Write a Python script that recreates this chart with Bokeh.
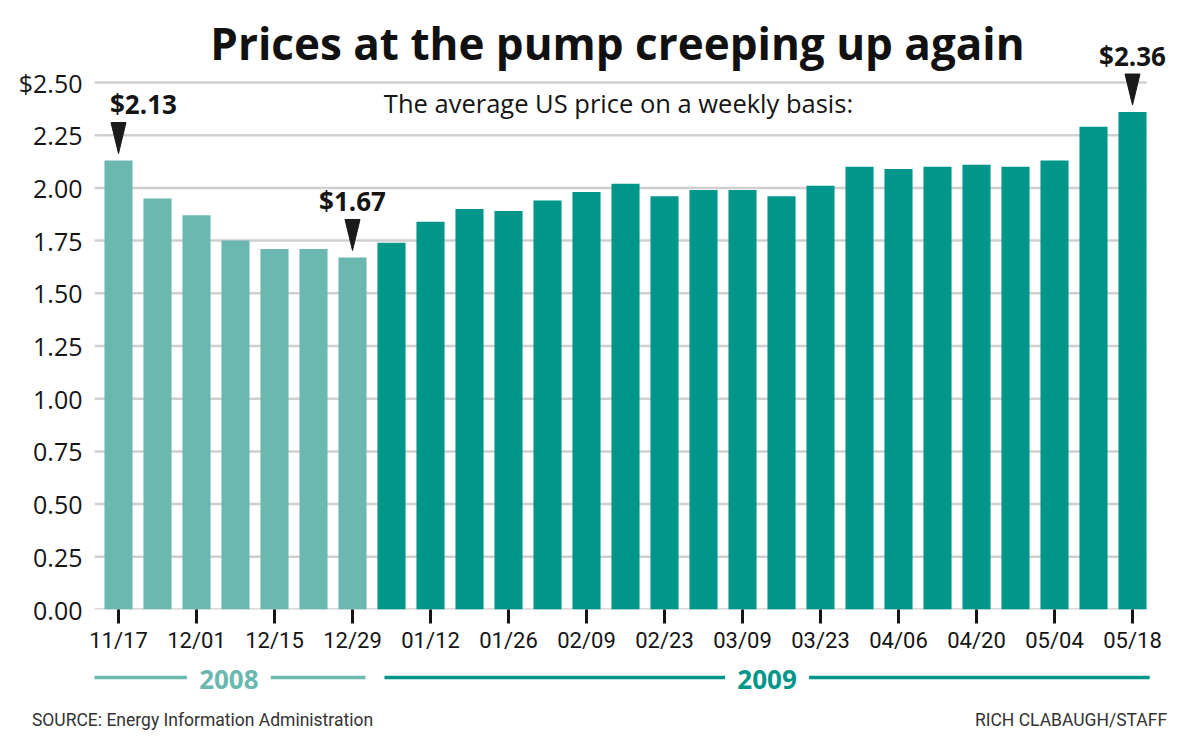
from bokeh.plotting import figure
from bokeh.models import Range1d, FixedTicker, NumeralTickFormatter, ColumnDataSource, Label
from bokeh.layouts import column
from bokeh.embed import file_html
from bokeh.resources import INLINE
from bokeh.core.properties import value

# ---------------- data ----------------
weeks = ["11/17", "11/24", "12/01", "12/08", "12/15", "12/22", "12/29",
         "01/05", "01/12", "01/19", "01/26", "02/02", "02/09", "02/16",
         "02/23", "03/02", "03/09", "03/16", "03/23", "03/30", "04/06",
         "04/13", "04/20", "04/27", "05/04", "05/11", "05/18"]
years = ["2008"] * 7 + ["2009"] * 20
prices = [2.13, 1.95, 1.87, 1.75, 1.71, 1.71, 1.67,
          1.74, 1.84, 1.90, 1.89, 1.94, 1.98, 2.02,
          1.96, 1.99, 1.99, 1.96, 2.01, 2.10, 2.09,
          2.10, 2.11, 2.10, 2.13, 2.29, 2.36]
y_ticks = [0.0, 0.25, 0.5, 0.75, 1.0, 1.25, 1.5, 1.75, 2.0, 2.25, 2.5]
labelled_weeks = weeks[::2]
callout_weeks = ["11/17", "12/29", "05/18"]
year_names = ["2008", "2009"]

title_text = "Prices at the pump creeping up again"
subtitle_text = "The average US price on a weekly basis:"
source_text = "SOURCE: Energy Information Administration"
credit_text = "RICH CLABAUGH/STAFF"

# ---------------- style ----------------
LIGHT = "#6ab8b0"
DARK = "#00968a"
YEAR_COLORS = {"2008": LIGHT, "2009": DARK}
INK = "#151515"
GRID = "#cfcfcf"
FONT = "Open Sans"
NARROW = "Roboto"

W = 1200
TOP_H = 660
BOT_H = 80
LEFT = 94
FRAME_BOTTOM = 609
BAR_W = 0.72
PPX = 39.0                                    # pixels per bar slot
PPY = 210.8                                   # pixels per dollar
X0 = -24 / PPX                                # frame starts 24px left of first bar centre
X1 = X0 + (W - LEFT) / PPX
Y1 = FRAME_BOTTOM / PPY


def y_at(py):
    """data y for a page pixel row inside the top figure"""
    return (FRAME_BOTTOM - py) / PPY


def x_at(px):
    """data x for a page pixel column"""
    return X0 + (px - LEFT) / PPX


xs = list(range(len(weeks)))
src = ColumnDataSource(dict(x=xs, price=prices, week=weeks,
                            color=[YEAR_COLORS[y] for y in years]))

p = figure(width=W, height=TOP_H, x_range=Range1d(X0, X1), y_range=Range1d(0, Y1),
           output_backend="svg", toolbar_location=None, title=None,
           min_border_left=LEFT, min_border_right=0, min_border_top=0,
           min_border_bottom=TOP_H - FRAME_BOTTOM)
p.outline_line_color = None
p.background_fill_color = "white"
p.border_fill_color = "white"
p.grid.visible = False

# horizontal rules at the tick values, spanning the bars only
grid_end = xs[-1] + BAR_W / 2
p.segment(x0=[X0] * len(y_ticks), y0=y_ticks, x1=[grid_end] * len(y_ticks), y1=y_ticks,
          line_color=GRID, line_width=2.5)

p.vbar(x="x", top="price", width=BAR_W, fill_color="color", line_color=None, source=src)

# y axis
p.yaxis.ticker = FixedTicker(ticks=y_ticks)
p.yaxis.formatter = NumeralTickFormatter(format="0.00")
p.yaxis.major_label_overrides = {2.5: "$2.50"}
p.yaxis.axis_line_color = None
p.yaxis.major_tick_line_color = None
p.yaxis.minor_tick_line_color = None
p.yaxis.major_label_standoff = 6
p.yaxis.major_label_text_font = FONT
p.yaxis.major_label_text_font_size = "25px"
p.yaxis.major_label_text_color = INK

# x axis
lab_idx = [weeks.index(w) for w in labelled_weeks]
p.xaxis.ticker = FixedTicker(ticks=lab_idx)
p.xaxis.major_label_overrides = {i: weeks[i] for i in lab_idx}
p.xaxis.axis_line_color = None
p.xaxis.major_tick_line_color = INK
p.xaxis.major_tick_line_width = 3
p.xaxis.major_tick_in = 0
p.xaxis.major_tick_out = 14
p.xaxis.minor_tick_line_color = None
p.xaxis.major_label_standoff = 4
p.xaxis.major_label_text_font = NARROW
p.xaxis.major_label_text_font_size = "22px"
p.xaxis.major_label_text_color = INK

# callouts: arrow + price label
c_idx = [weeks.index(w) for w in callout_weeks]
gap, tri_h, tri_hw, txt_gap = 7 / PPY, 31 / PPY, 7.5 / PPX, 18 / PPY
tri_xs, tri_ys = [], []
for k, i in enumerate(c_idx):
    tip = prices[i] + gap
    tri_xs.append([i - tri_hw, i + tri_hw, i])
    tri_ys.append([tip + tri_h, tip + tri_h, tip])
    if k == 0:
        lx, la = i - tri_hw - 1 / PPX, "left"
    else:
        lx, la = i, "center"
    p.add_layout(Label(x=lx, y=tip + tri_h + txt_gap, text="$%.2f" % prices[i],
                       text_align=la, text_baseline="middle", text_font=FONT,
                       text_font_style="bold", text_font_size="26px", text_color=INK))
p.patches(tri_xs, tri_ys, fill_color="#1a1a1a", line_color="#1a1a1a", line_width=1)

# title & subtitle
p.text(x=[x_at(617)], y=[y_at(42)], text=[title_text], text_align="center",
       text_baseline="middle", text_font=value(FONT), text_font_style="bold",
       text_font_size="44px", text_color="#111111")
p.text(x=[x_at(618)], y=[y_at(102)], text=[subtitle_text], text_align="center",
       text_baseline="middle", text_font=value(FONT), text_font_size="25.5px",
       text_color=INK)

# ---------------- bottom strip: years + credits ----------------
STRIP_H = 40
q = figure(width=W, height=BOT_H, x_range=p.x_range, y_range=Range1d(STRIP_H, 0),
           output_backend="svg", toolbar_location=None, title=None,
           y_axis_location=None,
           min_border_left=LEFT, min_border_right=0, min_border_top=0,
           min_border_bottom=BOT_H - STRIP_H)
q.outline_line_color = None
q.grid.visible = False
q.background_fill_color = "white"
q.border_fill_color = "white"

pads = {"2008": (0.67, 0.33), "2009": (0.18, 0.44)}
half_gap = 42 / PPX
seg_x0, seg_x1, seg_c = [], [], []
ytx, ytc = [], []
for yn in year_names:
    idx = [i for i, y in enumerate(years) if y == yn]
    a = idx[0] - pads[yn][0]
    b = idx[-1] + pads[yn][1]
    mid = (a + b) / 2
    seg_x0 += [a, mid + half_gap]
    seg_x1 += [mid - half_gap, b]
    seg_c += [YEAR_COLORS[yn]] * 2
    ytx.append(mid)
    ytc.append(YEAR_COLORS[yn])
LINE_Y = 677 - TOP_H
q.segment(x0=seg_x0, y0=[LINE_Y] * len(seg_x0), x1=seg_x1, y1=[LINE_Y] * len(seg_x0),
          line_color=seg_c, line_width=3.5)
q.text(x=ytx, y=[679 - TOP_H] * len(ytx), text=year_names, text_color=ytc,
       text_align="center", text_baseline="middle", text_font=value(FONT),
       text_font_style="bold", text_font_size="26px")

# source / credit line as the strip's bottom axis labels
src_x = x_at((26 + 378) / 2)
cred_x = x_at((985 + 1156) / 2)
q.xaxis.ticker = FixedTicker(ticks=[src_x, cred_x])
q.xaxis.major_label_overrides = {src_x: source_text, cred_x: credit_text}
q.xaxis.axis_line_color = None
q.xaxis.major_tick_line_color = None
q.xaxis.minor_tick_line_color = None
q.xaxis.major_label_standoff = 3
q.xaxis.major_label_text_font = NARROW
q.xaxis.major_label_text_font_size = "17.5px"
q.xaxis.major_label_text_color = "#333333"

layout = column(p, q, spacing=0)
open("out.html", "w").write(file_html(layout, INLINE))
